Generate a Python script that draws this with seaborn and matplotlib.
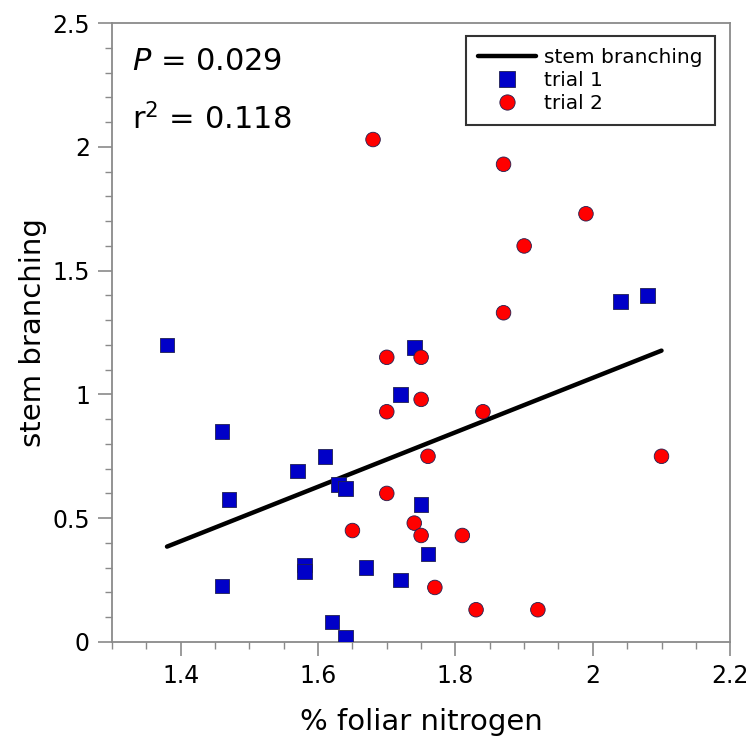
import numpy as np
import pandas as pd
import matplotlib
matplotlib.use("Agg")
import matplotlib.pyplot as plt
import seaborn as sns
from matplotlib.ticker import MultipleLocator, FixedLocator
from matplotlib.lines import Line2D

# ---- data ----
trial1_x = [1.38, 1.74, 1.72, 1.46, 1.61, 1.57, 1.63, 1.64, 1.47, 1.75,
            1.76, 1.58, 1.58, 1.67, 1.72, 1.46, 1.62, 1.64, 2.04, 2.08]
trial1_y = [1.20, 1.19, 1.00, 0.85, 0.75, 0.69, 0.635, 0.62, 0.575, 0.555,
            0.355, 0.31, 0.285, 0.30, 0.25, 0.225, 0.08, 0.02, 1.375, 1.40]
trial2_x = [1.68, 1.87, 1.99, 1.90, 1.87, 1.70, 1.75, 1.75, 1.70, 1.84,
            1.76, 1.70, 1.65, 1.74, 1.75, 1.81, 1.77, 1.83, 1.92, 2.10]
trial2_y = [2.03, 1.93, 1.73, 1.60, 1.33, 1.15, 1.15, 0.98, 0.93, 0.93,
            0.75, 0.60, 0.45, 0.48, 0.43, 0.43, 0.22, 0.13, 0.13, 0.75]
fit_x = [1.38, 2.10]
fit_y = [0.385, 1.177]
x_ticks = [1.4, 1.6, 1.8, 2.0, 2.2]
x_ticklabels = ["1.4", "1.6", "1.8", "2", "2.2"]
y_ticks = [0, 0.5, 1.0, 1.5, 2.0, 2.5]
y_ticklabels = ["0", "0.5", "1", "1.5", "2", "2.5"]
stats_P = "0.029"
stats_r2 = "0.118"
legend_labels = ["stem branching", "trial 1", "trial 2"]

df = pd.DataFrame({
    "x": trial1_x + trial2_x,
    "y": trial1_y + trial2_y,
    "trial": ["trial 1"] * len(trial1_x) + ["trial 2"] * len(trial2_x),
})
fit = pd.DataFrame({"x": fit_x, "y": fit_y})

sns.set_style("ticks")
plt.rcParams["font.family"] = ["DejaVu Sans"]
plt.rcParams["mathtext.fontset"] = "dejavusans"
plt.rcParams["text.color"] = "black"
plt.rcParams["axes.labelcolor"] = "black"
plt.rcParams["xtick.color"] = "black"
plt.rcParams["ytick.color"] = "black"

fig = plt.figure(figsize=(7.52, 7.49), dpi=100)
ax = fig.add_axes([0.149, 0.143, 0.822, 0.826])

sns.lineplot(data=fit, x="x", y="y", color="black", linewidth=3.2,
             ax=ax, legend=False)
sns.scatterplot(data=df, x="x", y="y", hue="trial", style="trial",
                markers={"trial 1": "s", "trial 2": "o"},
                palette={"trial 1": "#0000c8", "trial 2": "#ff0000"},
                s=110, edgecolor="#202050", linewidth=0.6, ax=ax, legend=False,
                zorder=3)

ax.set_xlim(1.3, 2.2)
ax.set_ylim(0, 2.5)
ax.xaxis.set_major_locator(FixedLocator(x_ticks))
ax.set_xticklabels(x_ticklabels)
ax.xaxis.set_minor_locator(MultipleLocator(0.05))
ax.yaxis.set_major_locator(FixedLocator(y_ticks))
ax.set_yticklabels(y_ticklabels)
ax.yaxis.set_minor_locator(MultipleLocator(0.1))

spine_col = "#8a8a8a"
for sp in ax.spines.values():
    sp.set_visible(True)
    sp.set_color(spine_col)
    sp.set_linewidth(1.3)
ax.tick_params(which="major", direction="out", length=10, width=1.2,
               color=spine_col, labelsize=17, pad=6, labelcolor="black")
ax.tick_params(which="minor", direction="out", length=5, width=1.0,
               color=spine_col)

ax.set_xlabel("% foliar nitrogen", fontsize=21, labelpad=14)
ax.set_ylabel("stem branching", fontsize=21, labelpad=4)

ax.text(0.033, 0.924, r"$P$ = " + stats_P, transform=ax.transAxes,
        fontsize=22, va="baseline")
ax.text(0.033, 0.829, r"r$^2$ = " + stats_r2, transform=ax.transAxes,
        fontsize=22, va="baseline")

handles = [
    Line2D([], [], color="black", linewidth=3.2),
    Line2D([], [], marker="s", linestyle="none", markersize=11,
           markerfacecolor="#0000c8", markeredgecolor="#202050", markeredgewidth=0.6),
    Line2D([], [], marker="o", linestyle="none", markersize=11,
           markerfacecolor="#ff0000", markeredgecolor="#202050", markeredgewidth=0.6),
]
leg = ax.legend(handles, legend_labels,
                loc="upper right", bbox_to_anchor=(0.975, 0.98),
                fontsize=14.5, frameon=True, fancybox=False,
                edgecolor="black", handlelength=2.9, handletextpad=0.4,
                labelspacing=0.2, borderpad=0.6, borderaxespad=0)
leg.get_frame().set_linewidth(1.5)

fig.savefig("out.png", dpi=100, facecolor="white")
